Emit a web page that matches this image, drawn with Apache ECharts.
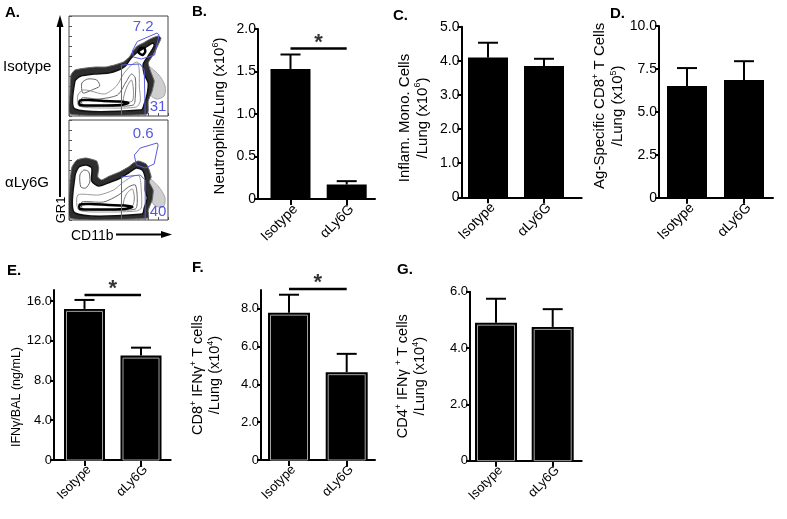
<!DOCTYPE html>
<html><head><meta charset="utf-8">
<script src="https://cdn.jsdelivr.net/npm/echarts@6/dist/echarts.min.js"></script>
<style>html,body{margin:0;padding:0;background:#fff}#c{width:787px;height:519px}</style>
</head><body><div id="c"></div><script>
// ---------- data ----------
const categories = ['Isotype', 'αLy6G'];

const neutrophilsMean = [1.53, 0.17];
const neutrophilsErr  = [0.17, 0.04];
const neutrophilsTicks = [0, 0.5, 1.0, 1.5, 2.0];
const neutrophilsSig = 1.77;

const monoMean = [4.10, 3.85];
const monoErr  = [0.43, 0.21];
const monoTicks = [0, 1, 2, 3, 4, 5];

const agCD8Mean = [6.50, 6.85];
const agCD8Err  = [1.05, 1.10];
const agCD8Ticks = [0, 2.5, 5.0, 7.5, 10.0];

const ifnBalMean = [15.2, 10.5];
const ifnBalErr  = [0.9, 0.8];
const ifnBalTicks = [0, 4, 8, 12, 16];
const ifnBalSig = 16.6;

const cd8IfnMean = [7.8, 4.65];
const cd8IfnErr  = [0.95, 0.97];
const cd8IfnTicks = [0, 2, 4, 6, 8];
const cd8IfnSig = 9.05;

const cd4IfnMean = [4.90, 4.75];
const cd4IfnErr  = [0.85, 0.63];
const cd4IfnTicks = [0, 2, 4, 6];

// flow plot (normalised CD11b / GR1 coordinates)
const isoOuter = [[0.01,0.02],[0.01,0.23],[0.02,0.41],[0.06,0.46],[0.17,0.48],[0.27,0.49],[0.37,0.49],[0.46,0.51],[0.55,0.54],[0.61,0.59],[0.64,0.64],[0.69,0.70],[0.75,0.73],[0.82,0.77],[0.90,0.80],[0.93,0.78],[0.90,0.71],[0.85,0.61],[0.80,0.53],[0.83,0.43],[0.86,0.35],[0.84,0.25],[0.80,0.15],[0.79,0.02]];
const isoSparse = [[0.78,0.50],[0.90,0.42],[0.97,0.30],[0.96,0.20],[0.88,0.17],[0.80,0.24]];
const isoInner = [[0.06,0.07],[0.06,0.35],[0.12,0.40],[0.25,0.42],[0.40,0.43],[0.50,0.46],[0.57,0.50],[0.62,0.57],[0.68,0.63],[0.76,0.68],[0.85,0.73],[0.86,0.70],[0.80,0.60],[0.75,0.52],[0.76,0.42],[0.80,0.33],[0.79,0.22],[0.76,0.12],[0.73,0.06]];
const isoHole = [[0.14,0.23],[0.13,0.33],[0.19,0.37],[0.28,0.36],[0.31,0.30],[0.23,0.26]];
const isoContour1 = [[0.10,0.10],[0.09,0.21],[0.14,0.26],[0.22,0.25],[0.36,0.22],[0.48,0.30],[0.55,0.42],[0.62,0.50],[0.69,0.54],[0.71,0.45],[0.71,0.30],[0.72,0.15],[0.68,0.09],[0.40,0.08]];
const isoContour2 = [[0.14,0.11],[0.13,0.18],[0.30,0.17],[0.49,0.21],[0.57,0.33],[0.63,0.42],[0.67,0.38],[0.67,0.20],[0.65,0.11],[0.40,0.10]];
const isoContour3 = [[0.55,0.15],[0.58,0.28],[0.63,0.36],[0.65,0.27],[0.64,0.15]];
const isoCore = [[0.11,0.11],[0.11,0.155],[0.20,0.16],[0.35,0.15],[0.52,0.145],[0.60,0.13],[0.52,0.11],[0.30,0.105]];
const isoSpot = [[0.70,0.64],[0.72,0.68],[0.76,0.68],[0.77,0.64],[0.74,0.61]];
const isoHiGate = [[0.64,0.65],[0.69,0.745],[0.89,0.83],[0.91,0.81],[0.865,0.61],[0.73,0.57],[0.65,0.59]];
const isoLoGate = [[0.53,0],[0.53,0.51],[0.72,0.52],[0.76,0.46],[0.77,0]];
const isoGateLabels = [[0.75,0.89,'7.2'],[0.90,0.09,'31']];

const lyOuter = [[0.01,0.02],[0.01,0.38],[0.03,0.53],[0.08,0.60],[0.17,0.62],[0.28,0.59],[0.30,0.52],[0.29,0.43],[0.33,0.40],[0.41,0.44],[0.51,0.48],[0.60,0.53],[0.65,0.57],[0.70,0.59],[0.78,0.56],[0.81,0.50],[0.83,0.43],[0.81,0.38],[0.85,0.30],[0.84,0.20],[0.80,0.10],[0.80,0.02]];
const lySparse = [[0.80,0.42],[0.90,0.34],[0.97,0.22],[0.95,0.13],[0.86,0.15],[0.82,0.26]];
const lyInner = [[0.06,0.07],[0.06,0.44],[0.10,0.53],[0.17,0.55],[0.23,0.52],[0.23,0.39],[0.30,0.34],[0.42,0.38],[0.52,0.42],[0.60,0.47],[0.68,0.52],[0.74,0.50],[0.77,0.42],[0.77,0.30],[0.79,0.22],[0.76,0.12],[0.74,0.06]];
const lyHole = [[0.12,0.33],[0.11,0.45],[0.15,0.50],[0.20,0.48],[0.21,0.38],[0.17,0.32]];
const lyContour1 = [[0.10,0.10],[0.09,0.25],[0.30,0.25],[0.45,0.30],[0.55,0.38],[0.65,0.44],[0.71,0.44],[0.73,0.30],[0.73,0.12],[0.68,0.09],[0.40,0.08]];
const lyContour2 = [[0.14,0.11],[0.13,0.18],[0.35,0.18],[0.50,0.25],[0.60,0.33],[0.67,0.35],[0.69,0.20],[0.67,0.11],[0.40,0.10]];
const lyContour3 = [[0.55,0.15],[0.58,0.26],[0.64,0.31],[0.66,0.22],[0.64,0.14]];
const lyCore = [[0.11,0.11],[0.11,0.155],[0.22,0.16],[0.40,0.15],[0.56,0.145],[0.64,0.13],[0.56,0.11],[0.30,0.105]];
const lyHiGate = [[0.66,0.65],[0.72,0.72],[0.89,0.77],[0.90,0.75],[0.86,0.56],[0.77,0.52],[0.68,0.55]];
const lyLoGate = [[0.53,0],[0.53,0.43],[0.72,0.45],[0.77,0.40],[0.77,0]];
const lyGateLabels = [[0.75,0.86,'0.6'],[0.90,0.08,'40']];

// ---------- layout / style ----------
const FONT = 'Liberation Sans';
const BLUE = '#2b2bd6';
const mkRich = fs => ({
  a: {fontSize: fs, fontFamily: FONT, color: '#000', lineHeight: fs + 3},
  s: {fontSize: Math.round(fs * 0.62), fontFamily: FONT, color: '#000', lineHeight: Math.round(fs * 0.62), verticalAlign: 'top'}
});
const panels = [
  {mean: neutrophilsMean, err: neutrophilsErr, ticks: neutrophilsTicks, yMax: 2, sig: neutrophilsSig, inset: false,
   name: '{a|Neutrophils/Lung (x10}{s|6}{a|)}', gap: 29, shift: 2, fs: 14, nfs: 15, bw: 40,
   box: {left: 258, right: 375, top: 29, bottom: 199, t0: 290.5, t1: 346.7}},
  {mean: monoMean, err: monoErr, ticks: monoTicks, yMax: 5, inset: false,
   name: '{a|Inflam. Mono. Cells}\n{a|/Lung (x10}{s|6}{a|)}', gap: 30, shift: 6, fs: 14, nfs: 15, bw: 40,
   box: {left: 461.5, right: 581.7, top: 26.7, bottom: 197.3, t0: 488, t1: 544}},
  {mean: agCD8Mean, err: agCD8Err, ticks: agCD8Ticks, yMax: 10, inset: false,
   name: '{a|Ag-Specific CD8}{s|+}{a| T Cells}\n{a|/Lung (x10}{s|5}{a|)}', gap: 30, shift: -6, fs: 14, nfs: 15, bw: 40,
   box: {left: 659, right: 773, top: 26, bottom: 197.7, t0: 687, t1: 744}},
  {mean: ifnBalMean, err: ifnBalErr, ticks: ifnBalTicks, yMax: 17.1, sig: ifnBalSig, inset: true,
   name: '{a|IFNγ/BAL (ng/mL)}', gap: 26, shift: 22, fs: 13, nfs: 12.5, bw: 41,
   box: {left: 54, right: 170.7, top: 290, bottom: 460, t0: 84.5, t1: 141}},
  {mean: cd8IfnMean, err: cd8IfnErr, ticks: cd8IfnTicks, yMax: 9.0, sig: cd8IfnSig, inset: true,
   name: '{a|CD8}{s|+}{a| IFNγ}{s|+}{a| T cells}\n{a|/Lung (x10}{s|4}{a|)}', gap: 37, shift: 0, fs: 13, nfs: 14.5, bw: 42,
   box: {left: 261, right: 375, top: 290, bottom: 460, t0: 289, t1: 346.7}},
  {mean: cd4IfnMean, err: cd4IfnErr, ticks: cd4IfnTicks, yMax: 6, inset: true,
   name: '{a|CD4}{s|+}{a| IFNγ }{s|+}{a| T cells}\n{a|/Lung (x10}{s|4}{a|)}', gap: 41, shift: 0, fs: 13, nfs: 14.5, bw: 42,
   box: {left: 470, right: 581.7, top: 291.7, bottom: 460.7, t0: 496, t1: 552.7}}
];

const grids = [], xAxes = [], yAxes = [], series = [];

// ---------- flow plots ----------
const flowBoxes = [{left: 69, top: 16, width: 99, height: 100}, {left: 69, top: 120, width: 99, height: 100}];
const flowSets = [
  {outer: isoOuter, sparse: isoSparse, inner: isoInner, hole: isoHole, c1: isoContour1, c2: isoContour2, c3: isoContour3, core: isoCore, spot: isoSpot, hi: isoHiGate, lo: isoLoGate, labels: isoGateLabels},
  {outer: lyOuter, sparse: lySparse, inner: lyInner, hole: lyHole, c1: lyContour1, c2: lyContour2, c3: lyContour3, core: lyCore, spot: null, hi: lyHiGate, lo: lyLoGate, labels: lyGateLabels}
];
function poly(idx, pts, style, z, smooth) {
  return {type: 'custom', xAxisIndex: idx, yAxisIndex: idx, silent: true, z: z, clip: true,
    data: [pts[0]],
    renderItem: (params, api) => ({type: 'polygon',
      shape: {points: pts.map(p => api.coord(p)), smooth: smooth === undefined ? 0.25 : smooth}, style: style})};
}
flowBoxes.forEach((b, i) => {
  grids.push(Object.assign({show: true, borderColor: '#444', borderWidth: 1, backgroundColor: '#fff'}, b));
  const ax = {gridIndex: i, type: 'value', min: 0, max: 1, interval: 0.1,
    axisLine: {show: false, onZero: false}, splitLine: {show: false}, axisLabel: {show: false},
    axisTick: {show: true, inside: true, length: 3, lineStyle: {color: '#555', width: 1}}};
  xAxes.push(Object.assign({}, ax));
  yAxes.push(Object.assign({}, ax));
  const f = flowSets[i];
  series.push(poly(i, f.sparse, {fill: '#cfcfcf', stroke: '#aaa', lineWidth: 1}, 1, 0.3));
  series.push(poly(i, f.outer, {fill: '#2e2e2e', stroke: '#666', lineWidth: 1}, 1, 0.15));
  series.push(poly(i, f.inner, {fill: '#fff', stroke: '#111', lineWidth: 1.5}, 2));
  series.push(poly(i, f.hole, {fill: 'none', stroke: '#666', lineWidth: 1}, 3));
  series.push(poly(i, f.c1, {fill: 'none', stroke: '#999', lineWidth: 1}, 3));
  series.push(poly(i, f.c2, {fill: 'none', stroke: '#666', lineWidth: 1}, 3));
  series.push(poly(i, f.c3, {fill: 'none', stroke: '#888', lineWidth: 1}, 3));
  series.push(poly(i, f.core, {fill: 'none', stroke: '#000', lineWidth: 2.5}, 3));
  if (f.spot) series.push(poly(i, f.spot, {fill: 'none', stroke: '#000', lineWidth: 2.5}, 3));
  series.push(poly(i, f.hi, {fill: 'none', stroke: '#5a5ae0', lineWidth: 1}, 4, 0));
  series.push(poly(i, f.lo, {fill: 'none', stroke: '#5a5ae0', lineWidth: 1}, 4, 0));
  series.push({type: 'scatter', xAxisIndex: i, yAxisIndex: i, symbolSize: 0, silent: true, z: 5,
    data: f.labels.map(l => ({value: [l[0], l[1]], name: l[2]})),
    label: {show: true, position: 'inside', formatter: p => p.name, color: BLUE, fontSize: 15, fontFamily: FONT}});
});

// ---------- bar panels ----------
const yFmt = v => v === 0 ? '0' : v.toFixed(1);
panels.forEach((p, k) => {
  const gi = k + 2, b = p.box, u = b.t1 - b.t0;
  grids.push({left: b.left, top: b.top, width: b.right - b.left, height: b.bottom - b.top});
  xAxes.push({gridIndex: gi, type: 'value', min: -(b.t0 - b.left) / u, max: 1 + (b.right - b.t1) / u,
    axisLine: {show: true, onZero: false, lineStyle: {color: '#000', width: 2}},
    axisTick: {show: true, customValues: [0, 1], length: 6, lineStyle: {color: '#000', width: 2}},
    axisLabel: {show: true, customValues: [0, 1], formatter: v => categories[Math.round(v)], rotate: 45,
      verticalAlign: 'top', fontSize: p.fs, fontFamily: FONT, color: '#000', margin: 3},
    splitLine: {show: false}});
  yAxes.push({gridIndex: gi, type: 'value', min: 0, max: p.yMax,
    name: p.name, nameLocation: 'middle', nameGap: p.gap,
    nameTextStyle: {rich: mkRich(p.nfs), align: 'center', padding: p.shift >= 0 ? [0, 2 * p.shift, 0, 0] : [0, 0, 0, -2 * p.shift]},
    axisLine: {show: true, onZero: false, lineStyle: {color: '#000', width: 2}},
    axisTick: {show: true, customValues: p.ticks, length: 4, lineStyle: {color: '#000', width: 2}},
    axisLabel: {show: true, customValues: p.ticks, formatter: yFmt, fontSize: p.fs, fontFamily: FONT, color: '#000', margin: 2},
    splitLine: {show: false}});
  const pts = p.mean.map((m, i) => [i, m, p.err[i]]);
  const hw = p.bw / 2;
  series.push({type: 'bar', xAxisIndex: gi, yAxisIndex: gi, barWidth: p.bw, silent: true, z: 2,
    data: pts.map(d => [d[0], d[1]]), itemStyle: {color: '#000'}});
  if (p.inset) {
    series.push({type: 'custom', xAxisIndex: gi, yAxisIndex: gi, silent: true, z: 3, data: pts,
      renderItem: (params, api) => {
        const t = api.coord([api.value(0), api.value(1)]), o = api.coord([api.value(0), 0]);
        return {type: 'rect', shape: {x: t[0] - hw + 2.5, y: t[1] + 2.5, width: 2 * hw - 5, height: o[1] - t[1] - 2.5},
          style: {fill: 'none', stroke: '#a0a0a0', lineWidth: 1}};
      }});
  }
  series.push({type: 'custom', xAxisIndex: gi, yAxisIndex: gi, silent: true, z: 4, data: pts, clip: false,
    renderItem: (params, api) => {
      const x = api.value(0), m = api.value(1), e = api.value(2);
      const a = api.coord([x, m]), c = api.coord([x, m + e]);
      return {type: 'group', children: [
        {type: 'line', shape: {x1: a[0], y1: a[1], x2: c[0], y2: c[1]}, style: {stroke: '#000', lineWidth: 2}},
        {type: 'line', shape: {x1: c[0] - 10, y1: c[1], x2: c[0] + 10, y2: c[1]}, style: {stroke: '#000', lineWidth: 2}}
      ]};
    }});
  if (p.sig !== undefined) {
    series.push({type: 'line', xAxisIndex: gi, yAxisIndex: gi, silent: true, clip: false, symbol: 'none', z: 4,
      data: [[0, p.sig], [1, p.sig]], lineStyle: {color: '#000', width: 2.5}});
    series.push({type: 'scatter', xAxisIndex: gi, yAxisIndex: gi, silent: true, clip: false, symbolSize: 0, z: 4,
      data: [[0.5, p.sig]],
      label: {show: true, position: 'top', distance: -5, formatter: '*', fontSize: 22, fontWeight: 'bold', fontFamily: FONT, color: '#000'}});
  }
});

// ---------- annotations ----------
const txt = (x, y, t, o) => ({type: 'text', x: x, y: y,
  style: Object.assign({text: t, fontFamily: FONT, fontSize: 14, fill: '#000'}, o || {})});
const letters = [['A.', 5, 13], ['B.', 192, 12], ['C.', 393, 16], ['D.', 610, 14], ['E.', 7, 271], ['F.', 192, 268], ['G.', 397, 270]];
const graphic = letters.map(l => txt(l[1], l[2], l[0], {fontWeight: 'bold', fontSize: 15, verticalAlign: 'middle'}));
graphic.push(txt(3, 67, 'Isotype', {fontSize: 15, verticalAlign: 'middle'}));
graphic.push(txt(5, 183, 'αLy6G', {fontSize: 15, verticalAlign: 'middle'}));
graphic.push(Object.assign(txt(61, 210, 'GR1', {fontSize: 13, align: 'center', verticalAlign: 'middle'}), {rotation: Math.PI / 2}));
graphic.push(txt(71, 236, 'CD11b', {fontSize: 14, verticalAlign: 'middle'}));
graphic.push({type: 'line', shape: {x1: 60, y1: 197, x2: 60, y2: 26}, style: {stroke: '#000', lineWidth: 2}});
graphic.push({type: 'polygon', shape: {points: [[60, 15], [56.5, 27], [63.5, 27]]}, style: {fill: '#000'}});
graphic.push({type: 'line', shape: {x1: 116, y1: 234.5, x2: 162, y2: 234.5}, style: {stroke: '#000', lineWidth: 2}});
graphic.push({type: 'polygon', shape: {points: [[172, 234.5], [161, 231], [161, 238]]}, style: {fill: '#000'}});

const chart = echarts.init(document.getElementById('c'), null, {renderer: 'canvas'});
chart.setOption({animation: false, backgroundColor: '#fff', grid: grids, xAxis: xAxes, yAxis: yAxes, series: series, graphic: graphic});
</script></body></html>
